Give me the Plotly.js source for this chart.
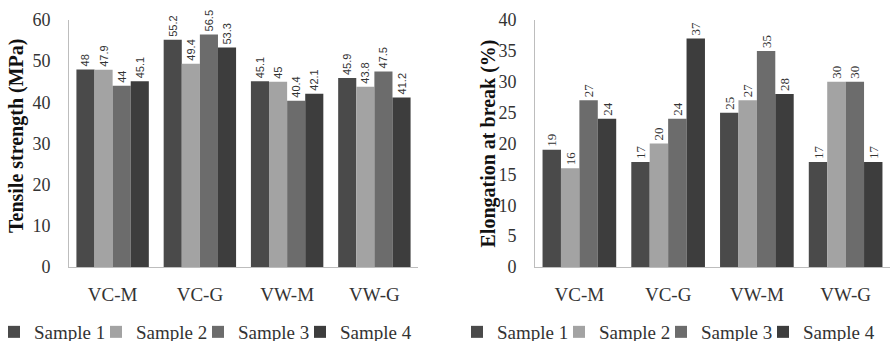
<!DOCTYPE html>
<html>
<head>
<meta charset="utf-8">
<script src="https://cdn.plot.ly/plotly-3.0.1.min.js"></script>
<style>html,body{margin:0;padding:0;background:#fff;}#chart{width:890px;height:341px;}</style>
</head>
<body>
<div id="chart"></div>
<script>
const categories = ['VC-M', 'VC-G', 'VW-M', 'VW-G'];
const seriesNames = ['Sample 1', 'Sample 2', 'Sample 3', 'Sample 4'];
const tensile1 = [48, 55.2, 45.1, 45.9];
const tensile2 = [47.9, 49.4, 45, 43.8];
const tensile3 = [44, 56.5, 40.4, 47.5];
const tensile4 = [45.1, 53.3, 42.1, 41.2];
const elong1 = [19, 17, 25, 17];
const elong2 = [16, 20, 27, 30];
const elong3 = [27, 24, 35, 30];
const elong4 = [24, 37, 28, 17];
const colors = ['#4a4a4a', '#a3a3a3', '#6c6c6c', '#3d3d3d'];

const tensile = [tensile1, tensile2, tensile3, tensile4];
const elong = [elong1, elong2, elong3, elong4];
const serif = 'Liberation Serif, Times New Roman, serif';
const traces = [];
tensile.forEach((vals, i) => {
  traces.push({
    type: 'bar', x: categories, y: vals, name: seriesNames[i],
    xaxis: 'x', yaxis: 'y', legend: 'legend',
    marker: {color: colors[i], line: {width: 0}},
    text: vals.map(String), textposition: 'outside', textangle: -90,
    constraintext: 'none', cliponaxis: false,
    textfont: {family: 'Liberation Sans Narrow, Arial Narrow, Liberation Sans, sans-serif', size: 11, color: '#333'},
    hoverinfo: 'skip'
  });
});
elong.forEach((vals, i) => {
  traces.push({
    type: 'bar', x: categories, y: vals, name: seriesNames[i],
    xaxis: 'x2', yaxis: 'y2', legend: 'legend2',
    marker: {color: colors[i], line: {width: 0}},
    text: vals.map(String), textposition: 'outside', textangle: -90,
    constraintext: 'none', cliponaxis: false,
    textfont: {family: serif, size: 13, color: '#333'},
    hoverinfo: 'skip'
  });
});
// blank spacer legend entries (no visible mark) so the last label is not clipped by the legend box
[['x', 'y', 'legend'], ['x2', 'y2', 'legend2']].forEach(([xa, ya, lg]) => {
  traces.push({
    type: 'scatter', mode: 'markers', x: [categories[0]], y: [null], name: '\u00a0',
    xaxis: xa, yaxis: ya, legend: lg, showlegend: true,
    marker: {color: 'rgba(0,0,0,0)', size: 1}, hoverinfo: 'skip'
  });
});

const axisY = {
  showgrid: false, zeroline: false, showline: true, linecolor: '#bdbdbd', linewidth: 1,
  ticks: '', ticklabelstandoff: 14, tickfont: {family: serif, size: 18, color: '#333'}
};
const axisX = {
  showgrid: false, zeroline: false, showline: true, linecolor: '#bdbdbd', linewidth: 1,
  ticks: '', ticklabelstandoff: 10, tickfont: {family: serif, size: 19, color: '#333'}
};
const legendBase = {
  orientation: 'h', yanchor: 'middle', y: (267 - 332) / 247,
  font: {family: serif, size: 19, color: '#333'}, bgcolor: 'rgba(0,0,0,0)',
  itemwidth: 30, entrywidth: 57, entrywidthmode: 'pixels',
  traceorder: 'normal', itemclick: false, itemdoubleclick: false
};

const layout = {
  width: 890, height: 341,
  margin: {l: 0, r: 0, t: 20, b: 74, autoexpand: false},
  paper_bgcolor: '#fff', plot_bgcolor: '#fff',
  barmode: 'group', bargap: 0.17, bargroupgap: 0,
  showlegend: true,
  xaxis: Object.assign({}, axisX, {domain: [69/890, 418/890], anchor: 'y'}),
  yaxis: Object.assign({}, axisY, {domain: [0, 1], range: [0, 60], dtick: 10, anchor: 'x'}),
  xaxis2: Object.assign({}, axisX, {domain: [535/890, 1], anchor: 'y2'}),
  yaxis2: Object.assign({}, axisY, {domain: [0, 1], range: [0, 40], dtick: 5, anchor: 'x2'}),
  legend: Object.assign({}, legendBase, {x: (510 - 6) / 890, xanchor: 'right'}),
  legend2: Object.assign({}, legendBase, {x: 457/890, xanchor: 'left'}),
  annotations: [
    {text: '<b>Tensile strength (MPa)</b>', xref: 'paper', yref: 'paper', x: 16/890, y: (267 - 136) / 247,
     textangle: -90, showarrow: false, xanchor: 'center', yanchor: 'middle',
     font: {family: serif, size: 20, color: '#111'}},
    {text: '<b>Elongation at break (%)</b>', xref: 'paper', yref: 'paper', x: 488/890, y: (267 - 143.5) / 247,
     textangle: -90, showarrow: false, xanchor: 'center', yanchor: 'middle',
     font: {family: serif, size: 20, color: '#111'}}
  ]
};

Plotly.newPlot('chart', traces, layout, {staticPlot: true, displayModeBar: false});
</script>
</body>
</html>
